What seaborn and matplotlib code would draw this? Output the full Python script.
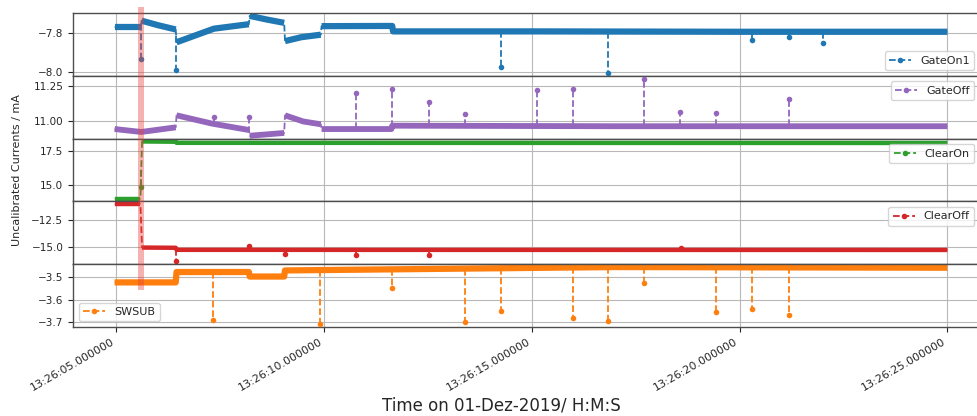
import numpy as np
import pandas as pd
import matplotlib
matplotlib.use("Agg")
import matplotlib.pyplot as plt
import matplotlib.dates as mdates
import matplotlib.transforms as mtransforms
from matplotlib.lines import Line2D
from matplotlib.patches import Rectangle
from matplotlib.ticker import MultipleLocator
import seaborn as sns

nan = np.nan
start = pd.Timestamp("2019-12-01 13:26:05")

# time in seconds after 13:26:05, nan marks a jump between levels
gate_on1_t = [-0.04, 0.59, nan, 0.61, 1.0, 1.43, nan, 1.45, 2.04, 2.35, 3.19, nan,
              3.21, 3.6, 4.04, nan, 4.06, 4.45, 4.92, nan, 4.94, 6.64, 6.66, 10.0, 15.0, 20.0]
gate_on1_v = [-7.767, -7.767, nan, -7.735, -7.758, -7.78, nan, -7.846, -7.80, -7.776, -7.753, nan,
              -7.71, -7.728, -7.746, nan, -7.84, -7.82, -7.807, nan, -7.763, -7.762, -7.79, -7.79, -7.792, -7.792]
gate_on1_spike_t = [0.60, 1.44, 9.25, 11.83, 15.30, 16.20, 17.00]
gate_on1_spike_v = [-7.93, -7.99, -7.972, -8.004, -7.833, -7.82, -7.85]

gate_off_t = [-0.04, 0.60, 1.43, nan, 1.45, 2.30, 3.19, nan, 3.21, 4.04, nan,
              4.06, 4.50, 4.92, nan, 4.94, 6.62, 6.64, 12.0, 20.0]
gate_off_v = [10.946, 10.925, 10.958, nan, 11.044, 10.985, 10.939, nan, 10.898, 10.918, nan,
              11.044, 11.0, 10.98, nan, 10.946, 10.946, 10.97, 10.966, 10.966]
gate_off_spike_t = [2.35, 3.20, 5.77, 6.63, 7.52, 8.39, 10.12, 10.98, 12.69, 13.56, 14.44, 16.18]
gate_off_spike_v = [11.03, 11.03, 11.20, 11.23, 11.14, 11.05, 11.226, 11.23, 11.306, 11.068, 11.06, 11.158]

clear_on_t = [-0.04, 0.58, nan, 0.62, 1.43, 1.45, 20.0]
clear_on_v = [14.03, 14.03, nan, 18.18, 18.16, 18.08, 18.07]
clear_on_spike_t = [0.60]
clear_on_spike_v = [14.9]

clear_off_t = [-0.04, 0.58, nan, 0.62, 1.43, 1.45, 20.0]
clear_off_v = [-11.04, -11.04, nan, -15.03, -15.05, -15.24, -15.25]
clear_off_spike_t = [1.44, 3.20, 4.05, 5.77, 7.52, 13.60]
clear_off_spike_v = [-16.3, -14.85, -15.6, -15.76, -15.67, -15.05]

swsub_t = [-0.04, 1.43, 1.45, 3.19, 3.21, 4.04, 4.06, 12.0, 20.0]
swsub_v = [-3.523, -3.523, -3.477, -3.477, -3.497, -3.497, -3.470, -3.455, -3.458]
swsub_spike_t = [2.32, 4.91, 6.63, 8.39, 9.25, 10.98, 11.83, 12.69, 14.44, 15.30, 16.18]
swsub_spike_v = [-3.688, -3.708, -3.546, -3.70, -3.65, -3.682, -3.696, -3.527, -3.653, -3.64, -3.666]

# name, data, colour, band width, legend position, tick step
panels = [
    ("GateOn1", gate_on1_t, gate_on1_v, gate_on1_spike_t, gate_on1_spike_v, "#1f77b4", 4.5, "lower right", 0.2),
    ("GateOff", gate_off_t, gate_off_v, gate_off_spike_t, gate_off_spike_v, "#9467bd", 4.2, "upper right", 0.25),
    ("ClearOn", clear_on_t, clear_on_v, clear_on_spike_t, clear_on_spike_v, "#2ca02c", 3.2, "upper right", 2.5),
    ("ClearOff", clear_off_t, clear_off_v, clear_off_spike_t, clear_off_spike_v, "#d62728", 3.2, "upper right", 2.5),
    ("SWSUB", swsub_t, swsub_v, swsub_spike_t, swsub_spike_v, "#ff7f0e", 4.5, "lower left", 0.1),
]

sns.set_style("ticks")
plt.rcParams["axes.edgecolor"] = "0.3"
plt.rcParams["axes.linewidth"] = 1.0


def to_time(sec):
    return start + pd.to_timedelta(np.asarray(sec, float), unit="s")


fig, axes = plt.subplots(5, 1, sharex=True, figsize=(9.77, 4.16), dpi=100)

for ax, (name, t, v, sp_t, sp_v, color, band_lw, loc, step) in zip(axes, panels):
    t = np.asarray(t, float)
    v = np.asarray(v, float)
    df = pd.DataFrame({"sec": t, "value": v, "segment": np.cumsum(np.isnan(v))}).dropna()
    df["time"] = to_time(df["sec"])

    # dense noisy trace -> thick band
    sns.lineplot(data=df, x="time", y="value", units="segment", estimator=None,
                 color=color, lw=band_lw, solid_capstyle="butt", legend=False, ax=ax)
    # thin dashed connection (visible at the jumps)
    sns.lineplot(data=df, x="time", y="value", estimator=None, color=color,
                 lw=1.3, linestyle="--", legend=False, ax=ax)

    # single spikes
    base = np.interp(sp_t, df["sec"], df["value"])
    sx = to_time(sp_t).to_numpy()
    ax.vlines(sx, base, sp_v, colors=color, linestyles="--", lw=1.3)
    sns.scatterplot(x=sx, y=sp_v, color=color, s=16, linewidth=0, ax=ax, zorder=3)

    ax.yaxis.set_major_locator(MultipleLocator(step))
    ax.grid(True, color="#b8b8b8", lw=0.8)
    ax.tick_params(axis="y", labelsize=7.5, length=3.5)
    ax.set_ylabel("")
    ax.set_xlabel("")

    handle = Line2D([0], [0], color=color, lw=1.3, ls="--", marker=".", ms=6)
    anchor_x = 0.0 if "left" in loc else 0.99
    anchor_y = 1.0 if "upper" in loc else 0.0
    ax.legend([handle], [name], loc=loc, bbox_to_anchor=(anchor_x, anchor_y),
              fontsize=8, frameon=True, framealpha=0.8, edgecolor="0.8", fancybox=True)

bottom = axes[-1]
bottom.xaxis.set_major_locator(mdates.SecondLocator(bysecond=range(0, 60, 5)))
bottom.xaxis.set_major_formatter(mdates.DateFormatter("%H:%M:%S.%f"))
bottom.tick_params(axis="x", labelsize=8)
fig.autofmt_xdate(rotation=30, ha="right")

axes[2].set_ylabel("Uncalibrated Currents / mA", fontsize=8)
axes[2].yaxis.set_label_coords(-0.056, 0.5)

fig.subplots_adjust(left=73 / 977, right=989 / 977, top=1 - 13 / 416,
                    bottom=1 - 327 / 416, hspace=0)

fig.text(0.513, 0.004, "Time on 01-Dez-2019/ H:M:S", fontsize=12, ha="center", va="bottom")

# trigger marker across the panels
trans = mtransforms.blended_transform_factory(bottom.transData, fig.transFigure)
x0 = mdates.date2num(to_time([0.52])[0])
x1 = mdates.date2num(to_time([0.66])[0])
fig.patches.append(Rectangle((x0, 1 - 290 / 416), x1 - x0, (290 - 7) / 416,
                             transform=trans, color="#e8403a", alpha=0.4, lw=0, zorder=5))

fig.savefig("out.png", dpi=100)
